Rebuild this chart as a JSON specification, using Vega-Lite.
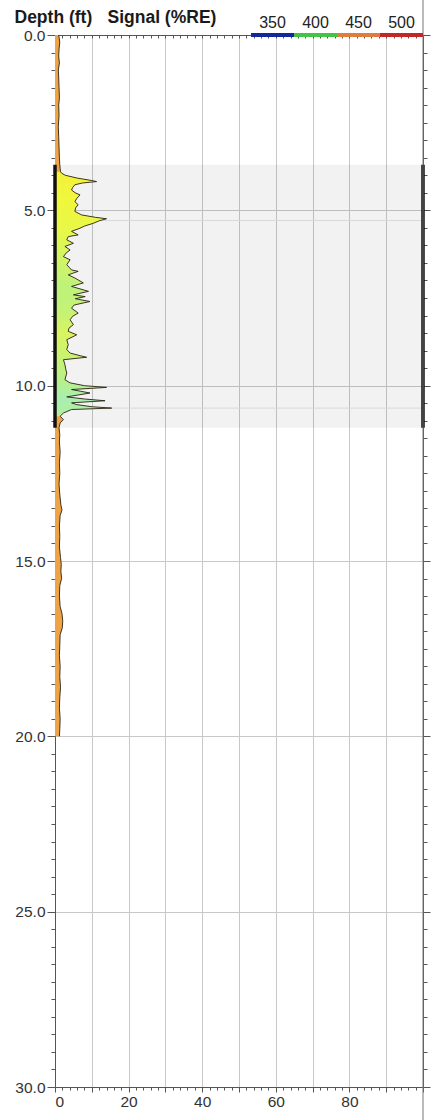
{
  "$schema": "https://vega.github.io/schema/vega-lite/v6.json",
  "width": 368,
  "height": 1052,
  "autosize": {"type": "none"},
  "padding": {"left": 55, "top": 35, "right": 19, "bottom": 33},
  "background": "white",
  "config": {"view": {"stroke": null}, "font": "Liberation Sans"},
  "datasets": {
    "signal": [
      {"depth":0,"signal":1.0},{"depth":0.2,"signal":1.3},{"depth":0.4,"signal":1.1},{"depth":0.6,"signal":1.0},{"depth":0.8,"signal":1.2},{"depth":1.0,"signal":0.9},{"depth":1.2,"signal":1.0},{"depth":1.5,"signal":1.1},{"depth":1.8,"signal":1.2},{"depth":2.0,"signal":1.0},{"depth":2.3,"signal":1.1},{"depth":2.6,"signal":0.9},{"depth":2.9,"signal":1.0},{"depth":3.2,"signal":1.1},{"depth":3.5,"signal":1.2},{"depth":3.7,"signal":1.3},{"depth":3.8,"signal":1.4},{"depth":3.9,"signal":1.5},{"depth":3.94,"signal":1.8},{"depth":4.0,"signal":2.8},{"depth":4.08,"signal":6.0},{"depth":4.15,"signal":10.0},{"depth":4.18,"signal":11.3},{"depth":4.22,"signal":7.5},{"depth":4.27,"signal":5.4},{"depth":4.35,"signal":4.8},{"depth":4.42,"signal":4.5},{"depth":4.5,"signal":5.5},{"depth":4.56,"signal":6.8},{"depth":4.65,"signal":6.0},{"depth":4.75,"signal":5.4},{"depth":4.84,"signal":6.3},{"depth":4.93,"signal":5.6},{"depth":5.03,"signal":5.4},{"depth":5.13,"signal":7.2},{"depth":5.2,"signal":11.0},{"depth":5.24,"signal":14.0},{"depth":5.3,"signal":12.0},{"depth":5.37,"signal":10.4},{"depth":5.45,"signal":8.0},{"depth":5.51,"signal":6.8},{"depth":5.6,"signal":4.5},{"depth":5.7,"signal":6.3},{"depth":5.75,"signal":3.6},{"depth":5.84,"signal":3.2},{"depth":5.94,"signal":5.0},{"depth":6.03,"signal":2.7},{"depth":6.13,"signal":4.1},{"depth":6.22,"signal":3.0},{"depth":6.32,"signal":2.3},{"depth":6.41,"signal":4.1},{"depth":6.55,"signal":3.2},{"depth":6.7,"signal":4.5},{"depth":6.74,"signal":6.3},{"depth":6.84,"signal":3.6},{"depth":6.93,"signal":5.4},{"depth":7.07,"signal":7.7},{"depth":7.17,"signal":4.5},{"depth":7.31,"signal":9.1},{"depth":7.41,"signal":5.0},{"depth":7.46,"signal":8.2},{"depth":7.52,"signal":5.5},{"depth":7.6,"signal":9.5},{"depth":7.7,"signal":5.2},{"depth":7.79,"signal":4.5},{"depth":7.93,"signal":6.3},{"depth":8.02,"signal":4.8},{"depth":8.12,"signal":4.1},{"depth":8.26,"signal":5.0},{"depth":8.36,"signal":3.8},{"depth":8.45,"signal":3.6},{"depth":8.55,"signal":5.9},{"depth":8.69,"signal":3.2},{"depth":8.83,"signal":3.6},{"depth":8.97,"signal":3.2},{"depth":9.07,"signal":4.1},{"depth":9.15,"signal":7.0},{"depth":9.19,"signal":8.6},{"depth":9.26,"signal":2.3},{"depth":9.4,"signal":2.7},{"depth":9.52,"signal":2.9},{"depth":9.64,"signal":3.2},{"depth":9.83,"signal":2.7},{"depth":9.92,"signal":4.1},{"depth":10.0,"signal":8.0},{"depth":10.05,"signal":14.0},{"depth":10.11,"signal":4.5},{"depth":10.16,"signal":7.0},{"depth":10.21,"signal":9.5},{"depth":10.32,"signal":3.2},{"depth":10.38,"signal":8.0},{"depth":10.43,"signal":13.6},{"depth":10.49,"signal":4.5},{"depth":10.54,"signal":5.9},{"depth":10.6,"signal":10.0},{"depth":10.64,"signal":15.4},{"depth":10.68,"signal":4.5},{"depth":10.78,"signal":2.3},{"depth":10.87,"signal":1.4},{"depth":10.97,"signal":2.3},{"depth":11.06,"signal":1.4},{"depth":11.2,"signal":1.1},{"depth":11.4,"signal":1.3},{"depth":11.6,"signal":1.2},{"depth":11.9,"signal":1.4},{"depth":12.2,"signal":1.2},{"depth":12.5,"signal":1.3},{"depth":12.8,"signal":1.1},{"depth":13.1,"signal":1.3},{"depth":13.4,"signal":1.6},{"depth":13.55,"signal":1.9},{"depth":13.7,"signal":1.4},{"depth":14.0,"signal":1.2},{"depth":14.3,"signal":1.3},{"depth":14.6,"signal":1.2},{"depth":14.9,"signal":1.5},{"depth":15.1,"signal":1.7},{"depth":15.3,"signal":1.6},{"depth":15.5,"signal":1.8},{"depth":15.7,"signal":1.3},{"depth":16.0,"signal":1.2},{"depth":16.3,"signal":1.4},{"depth":16.5,"signal":1.9},{"depth":16.7,"signal":2.1},{"depth":16.9,"signal":2.0},{"depth":17.1,"signal":1.4},{"depth":17.4,"signal":1.3},{"depth":17.7,"signal":1.2},{"depth":18.0,"signal":1.4},{"depth":18.3,"signal":1.3},{"depth":18.6,"signal":1.5},{"depth":18.9,"signal":1.3},{"depth":19.2,"signal":1.2},{"depth":19.5,"signal":1.4},{"depth":19.8,"signal":1.3},{"depth":20.0,"signal":1.2}
    ],
    "zone": [{"top": 3.7, "bottom": 11.2}],
    "markers": [{"depth": 5.29}, {"depth": 10.64}],
    "legend": [
      {"wl": 350, "lo": 325, "hi": 375},
      {"wl": 400, "lo": 375, "hi": 425},
      {"wl": 450, "lo": 425, "hi": 475},
      {"wl": 500, "lo": 475, "hi": 525}
    ]
  },
  "resolve": {"scale": {"x": "independent"}, "axis": {"x": "independent", "y": "independent"}},
  "layer": [
    {
      "data": {"name": "zone"},
      "mark": {"type": "rect", "fill": "#000000", "fillOpacity": 0.05},
      "encoding": {
        "y": {
          "field": "top", "type": "quantitative",
          "scale": {"domain": [0, 30], "reverse": true, "nice": false, "zero": false},
          "axis": {
            "orient": "left",
            "values": [0,0.5,1,1.5,2,2.5,3,3.5,4,4.5,5,5.5,6,6.5,7,7.5,8,8.5,9,9.5,10,10.5,11,11.5,12,12.5,13,13.5,14,14.5,15,15.5,16,16.5,17,17.5,18,18.5,19,19.5,20,20.5,21,21.5,22,22.5,23,23.5,24,24.5,25,25.5,26,26.5,27,27.5,28,28.5,29,29.5,30],
            "labelExpr": "datum.value % 5 === 0 ? format(datum.value, '.1f') : ''",
            "labelFontSize": 15.5, "labelFont": "Liberation Sans", "labelColor": "#333333", "labelPadding": 2, "labelOverlap": false, "labelBound": false,
            "tickSize": {"condition": {"test": "datum.value % 5 === 0", "value": 8}, "value": 4},
            "tickColor": "#555555", "domainColor": "#555555",
            "grid": true, "gridColor": "#c8c8c8",
            "gridOpacity": {"condition": {"test": "datum.value % 5 === 0", "value": 1}, "value": 0},
            "title": "Depth (ft)", "titleAngle": 0, "titleAlign": "left", "titleBaseline": "alphabetic",
            "titleX": -41, "titleY": -13, "titleFontSize": 17.5, "titleFontWeight": "bold", "titleFont": "Liberation Sans", "titleColor": "#1a1a1a"
          }
        },
        "y2": {"field": "bottom"}
      }
    },
    {
      "data": {"name": "markers"},
      "mark": {"type": "rule", "stroke": "#d9d9d9", "strokeWidth": 1},
      "encoding": {
        "y": {
          "field": "depth", "type": "quantitative",
          "axis": {
            "orient": "right",
            "values": [0,0.5,1,1.5,2,2.5,3,3.5,4,4.5,5,5.5,6,6.5,7,7.5,8,8.5,9,9.5,10,10.5,11,11.5,12,12.5,13,13.5,14,14.5,15,15.5,16,16.5,17,17.5,18,18.5,19,19.5,20,20.5,21,21.5,22,22.5,23,23.5,24,24.5,25,25.5,26,26.5,27,27.5,28,28.5,29,29.5,30],
            "labels": false, "grid": false, "title": null,
            "tickSize": {"condition": {"test": "datum.value % 5 === 0", "value": 7}, "value": 4},
            "tickColor": "#555555", "domainColor": "#555555"
          }
        }
      }
    },
    {
      "data": {"name": "signal"},
      "mark": {"type": "area", "orient": "horizontal", "fill": "#f0a344"},
      "encoding": {
        "x": {
          "field": "signal", "type": "quantitative",
          "scale": {"domain": [0, 100], "nice": false, "zero": true},
          "axis": {
            "orient": "bottom",
            "values": [0,2,4,6,8,10,12,14,16,18,20,22,24,26,28,30,32,34,36,38,40,42,44,46,48,50,52,54,56,58,60,62,64,66,68,70,72,74,76,78,80,82,84,86,88,90,92,94,96,98,100],
            "labelExpr": "datum.value % 20 === 0 && datum.value < 100 ? format(datum.value, 'd') : ''",
            "labelFontSize": 15.5, "labelFont": "Liberation Sans", "labelColor": "#333333", "labelPadding": 2, "labelOverlap": false,
            "tickSize": {"condition": {"test": "datum.value % 10 === 0", "value": 5}, "value": 3},
            "tickColor": "#555555", "domainColor": "#555555",
            "grid": true, "gridColor": "#c8c8c8",
            "gridOpacity": {"condition": {"test": "datum.value % 10 === 0 && datum.value > 0 && datum.value < 100", "value": 1}, "value": 0},
            "title": null
          }
        },
        "y": {"field": "depth", "type": "quantitative", "axis": null}
      }
    },
    {
      "data": {"name": "signal"},
      "transform": [{"filter": "datum.depth >= 3.9 && datum.depth <= 10.87"}],
      "mark": {
        "type": "area", "orient": "horizontal",
        "fill": {
          "gradient": "linear", "x1": 0, "y1": 0, "x2": 0, "y2": 1,
          "stops": [
            {"offset": 0, "color": "#f2f23a"},
            {"offset": 0.12, "color": "#f0f73c"},
            {"offset": 0.25, "color": "#e6f84a"},
            {"offset": 0.35, "color": "#d2f564"},
            {"offset": 0.47, "color": "#bef27a"},
            {"offset": 0.57, "color": "#c4f276"},
            {"offset": 0.66, "color": "#d9f460"},
            {"offset": 0.75, "color": "#caf370"},
            {"offset": 0.85, "color": "#b8f088"},
            {"offset": 0.93, "color": "#a8eeb0"},
            {"offset": 1, "color": "#b5eea0"}
          ]
        }
      },
      "encoding": {
        "x": {"field": "signal", "type": "quantitative", "scale": {"domain": [0, 100], "nice": false, "zero": true}, "axis": null},
        "y": {"field": "depth", "type": "quantitative", "axis": null}
      }
    },
    {
      "data": {"name": "signal"},
      "mark": {"type": "line", "stroke": "#2a2418", "strokeWidth": 0.9},
      "encoding": {
        "x": {
          "field": "signal", "type": "quantitative",
          "scale": {"domain": [0, 100], "nice": false, "zero": true},
          "axis": {
            "orient": "top",
            "values": [0,2,4,6,8,10,12,14,16,18,20,22,24,26,28,30,32,34,36,38,40,42,44,46,48,50,52,54,56,58,60,62,64,66,68,70,72,74,76,78,80,82,84,86,88,90,92,94,96,98,100],
            "labels": false, "grid": false,
            "tickSize": -3, "tickColor": "#555555", "domainColor": "#555555",
            "title": "Signal (%RE)", "titleAngle": 0, "titleAlign": "left", "titleBaseline": "alphabetic",
            "titleX": 52, "titleY": -13, "titleFontSize": 17.5, "titleFontWeight": "bold", "titleFont": "Liberation Sans", "titleColor": "#1a1a1a"
          }
        },
        "y": {"field": "depth", "type": "quantitative", "axis": null},
        "order": {"field": "depth", "type": "quantitative"}
      }
    },
    {
      "data": {"name": "zone"},
      "mark": {"type": "rule", "stroke": "#111111", "strokeWidth": 3.5},
      "encoding": {
        "x": {"datum": 0, "type": "quantitative", "scale": {"domain": [0, 100], "nice": false}, "axis": null},
        "y": {"field": "top", "type": "quantitative", "axis": null},
        "y2": {"field": "bottom"}
      }
    },
    {
      "data": {"name": "zone"},
      "mark": {"type": "rule", "stroke": "#111111", "strokeWidth": 3.5},
      "encoding": {
        "x": {"datum": 100, "type": "quantitative", "scale": {"domain": [0, 100], "nice": false}, "axis": null},
        "y": {"field": "top", "type": "quantitative", "axis": null},
        "y2": {"field": "bottom"}
      }
    },
    {
      "data": {"name": "zone"},
      "mark": {"type": "rule", "stroke": "#777777", "strokeWidth": 1},
      "encoding": {
        "x": {"datum": 100, "type": "quantitative", "scale": {"domain": [0, 100], "nice": false}, "axis": null},
        "y": {"datum": -1, "type": "quantitative", "axis": null},
        "y2": {"datum": 31.95}
      }
    },
    {
      "data": {"name": "legend"},
      "mark": {"type": "rule", "strokeWidth": 4},
      "encoding": {
        "x": {"field": "lo", "type": "quantitative", "scale": {"domain": [97, 525], "nice": false, "zero": false}, "axis": null},
        "x2": {"field": "hi"},
        "y": {"datum": 0, "type": "quantitative", "axis": null},
        "color": {
          "field": "wl", "type": "ordinal",
          "scale": {"domain": [350, 400, 450, 500], "range": ["#13279c", "#43c443", "#df7d3d", "#c22626"]},
          "legend": null
        }
      }
    },
    {
      "data": {"name": "legend"},
      "mark": {"type": "text", "dy": -7, "baseline": "alphabetic", "align": "center", "fontSize": 16, "font": "Liberation Sans", "color": "#222222"},
      "encoding": {
        "x": {"field": "wl", "type": "quantitative", "scale": {"domain": [97, 525], "nice": false, "zero": false}, "axis": null},
        "y": {"datum": 0, "type": "quantitative", "axis": null},
        "text": {"field": "wl", "type": "quantitative"}
      }
    }
  ]
}
